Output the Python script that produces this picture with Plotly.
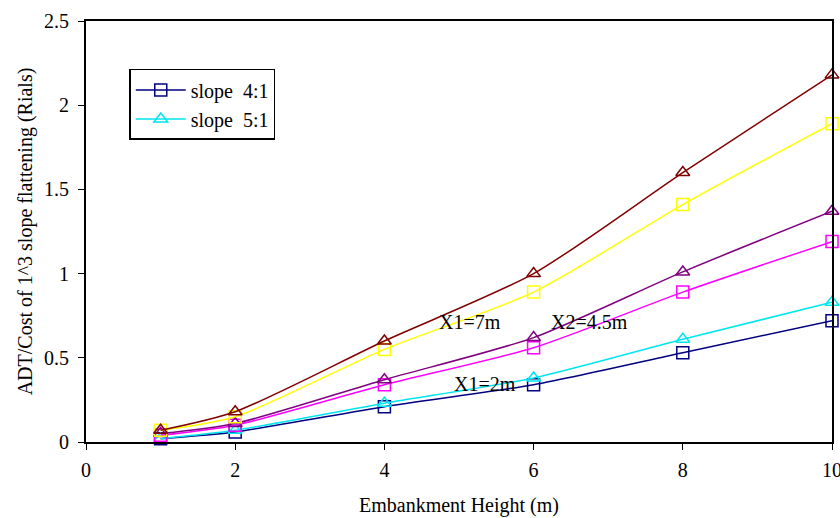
import plotly.graph_objects as go

heights = [1, 2, 4, 6, 8, 10]

slope41_x2m = [0.02, 0.06, 0.21, 0.34, 0.53, 0.72]
slope51_x2m = [0.02, 0.07, 0.23, 0.38, 0.61, 0.83]
slope41_x45m = [0.04, 0.10, 0.34, 0.56, 0.89, 1.19]
slope51_x45m = [0.05, 0.11, 0.37, 0.62, 1.01, 1.37]
slope41_x7m = [0.07, 0.15, 0.55, 0.89, 1.41, 1.89]
slope51_x7m = [0.07, 0.18, 0.60, 1.00, 1.60, 2.18]

series = [
    ("slope\u00a0\u00a04:1", slope41_x2m, "#000080", "square-open", True),
    ("slope\u00a0\u00a05:1", slope51_x2m, "#00E5F0", "triangle-up-open", True),
    ("slope 4:1 X2=4.5m", slope41_x45m, "#FF00FF", "square-open", False),
    ("slope 5:1 X2=4.5m", slope51_x45m, "#800080", "triangle-up-open", False),
    ("slope 4:1 X1=7m", slope41_x7m, "#FFFF00", "square-open", False),
    ("slope 5:1 X1=7m", slope51_x7m, "#800000", "triangle-up-open", False),
]

labels = [("X1=7m", 5.15, 0.71), ("X2=4.5m", 6.75, 0.71), ("X1=2m", 5.35, 0.345)]

font_family = "Liberation Serif, Times New Roman, serif"

fig = go.Figure()
for name, vals, color, sym, show in series:
    fig.add_trace(go.Scatter(
        x=heights, y=vals, name=name, mode="lines+markers",
        line=dict(color=color, width=1.5, shape="spline", smoothing=0.7),
        marker=dict(symbol=sym, size=12, color=color, line=dict(color=color, width=1.5)),
        showlegend=show, cliponaxis=False,
    ))

for text, x, y in labels:
    fig.add_annotation(x=x, y=y, text=text, showarrow=False,
                       font=dict(family=font_family, size=20, color="black"))

fig.update_layout(
    width=840, height=518,
    margin=dict(l=86, r=8, t=21, b=76),
    paper_bgcolor="white", plot_bgcolor="white",
    font=dict(family=font_family, size=20, color="black"),
    legend=dict(x=0.058, y=0.886, xanchor="left", yanchor="top",
                bordercolor="black", borderwidth=1.5, bgcolor="white",
                font=dict(family=font_family, size=20), tracegroupgap=0,
                itemwidth=50),
    showlegend=True,
)
fig.update_xaxes(range=[0, 10], dtick=2, showgrid=False, zeroline=False,
                 showline=True, linecolor="black", linewidth=2, mirror=True,
                 ticks="outside", ticklen=6, tickcolor="black", ticklabelstandoff=3,
                 tickfont=dict(size=20), automargin=False, ticklabeloverflow="allow",
                 title=dict(text="Embankment Height (m)", standoff=18, font=dict(size=20)))
fig.update_yaxes(range=[0, 2.5], dtick=0.5, showgrid=False, zeroline=False,
                 showline=True, linecolor="black", linewidth=2, mirror=True,
                 ticks="outside", ticklen=6, tickcolor="black", ticklabelstandoff=5,
                 tickfont=dict(size=20), automargin=False, ticklabeloverflow="allow",
                 title=dict(text="ADT/Cost of 1^3 slope flattening (Rials)", standoff=6, font=dict(size=20)))

fig.write_html("out.html", config={"displayModeBar": False},
               post_script="document.body.style.margin='0';")
